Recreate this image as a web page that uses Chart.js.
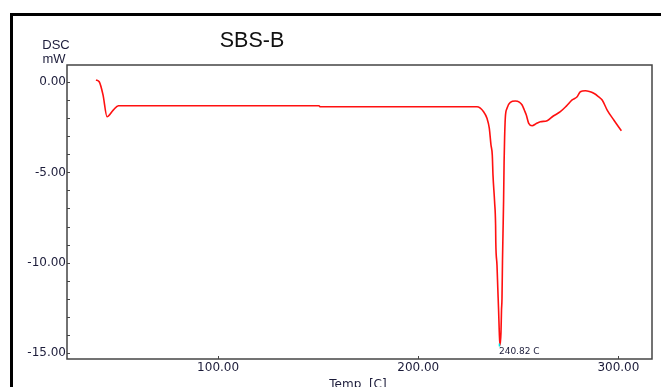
<!DOCTYPE html>
<html>
<head>
<meta charset="utf-8">
<script src="https://cdn.jsdelivr.net/npm/chart.js@4/dist/chart.umd.min.js"></script>
<style>
  html, body { margin: 0; padding: 0; background: #fff; overflow: hidden; }
  #wrap { position: absolute; left: 0; top: 0; width: 661px; height: 387px; }
</style>
</head>
<body>
<div id="wrap"><canvas id="c" width="661" height="387"></canvas></div>
<script>
// ---- data ----
const temps = [39, 40.6, 42.5, 44.5, 47.6, 50.2, 100, 150.4, 151, 200, 229.35, 232.65, 234.35, 235.5, 236.35, 237, 237.35, 238.15, 238.65, 238.75, 239.35, 239.75, 240.15, 240.5, 240.82, 241.35, 241.6, 241.85, 242.1, 242.35, 242.65, 242.9, 243.15, 243.5, 244.35, 246, 248.5, 250.5, 251.9, 253, 254, 255.2, 256.9, 259, 261, 264.4, 267.5, 271, 274, 276.9, 279.4, 281, 283.5, 285.5, 287.7, 290, 291.9, 294.4, 297.7, 301.5];
const dsc   = [0.13, 0.03, -0.7, -1.91, -1.54, -1.3, -1.3, -1.3, -1.36, -1.36, -1.36, -1.63, -2.0, -2.54, -3.48, -4.04, -5.15, -6.63, -7.93, -8.86, -10.15, -11.43, -12.65, -13.86, -14.6, -13.86, -12.65, -11.98, -9.87, -8.37, -6.54, -4.41, -3.09, -1.98, -1.44, -1.11, -1.04, -1.1, -1.26, -1.54, -1.82, -2.28, -2.41, -2.29, -2.19, -2.13, -1.87, -1.63, -1.32, -0.98, -0.8, -0.52, -0.47, -0.51, -0.61, -0.79, -0.98, -1.54, -2.09, -2.69];
const xTickValues = [100, 200, 300];
const yTickValues = [0, -5, -10, -15];
const yMinorStep = 1;
const peakTemp = 240.82;
const peakValue = -14.6;
const peakLabel = '240.82 C';
const chartTitle = 'SBS-B';
const yTitleLines = ['DSC', 'mW'];
const xTitle = 'Temp  [C]';

const points = temps.map((t, i) => ({ x: t, y: dsc[i] }));

const decor = {
  id: 'decor',
  beforeDraw(chart) {
    const ctx = chart.ctx;
    ctx.save();
    ctx.fillStyle = '#fff';
    ctx.fillRect(0, 0, chart.width, chart.height);
    ctx.restore();
  },
  afterDraw(chart) {
    const ctx = chart.ctx;
    const a = chart.chartArea;
    const xs = chart.scales.x, ys = chart.scales.y;
    ctx.save();
    // outer black frame
    ctx.strokeStyle = '#000';
    ctx.lineWidth = 3;
    ctx.beginPath();
    ctx.moveTo(11.5, chart.height + 2);
    ctx.lineTo(11.5, 14.5);
    ctx.lineTo(chart.width + 2, 14.5);
    ctx.stroke();
    // plot frame
    ctx.strokeStyle = '#444';
    ctx.lineWidth = 1.5;
    ctx.strokeRect(a.left, a.top, a.right - a.left, a.bottom - a.top);
    // inward ticks
    ctx.lineWidth = 1;
    ctx.strokeStyle = '#444';
    ctx.beginPath();
    for (let v = Math.ceil(ys.min); v <= ys.max; v += yMinorStep) {
      const py = Math.round(ys.getPixelForValue(v)) + 0.5;
      ctx.moveTo(a.left, py);
      ctx.lineTo(a.left + 3, py);
    }
    xTickValues.forEach(v => {
      const px = Math.round(xs.getPixelForValue(v)) + 0.5;
      ctx.moveTo(px, a.bottom);
      ctx.lineTo(px, a.bottom - 3);
    });
    ctx.stroke();
    // peak marker + label
    const ppx = xs.getPixelForValue(peakTemp);
    const ppy = ys.getPixelForValue(peakValue);
    ctx.strokeStyle = '#00e0e0';
    ctx.lineWidth = 1.5;
    ctx.beginPath();
    ctx.moveTo(ppx - 0.5, ppy - 2);
    ctx.lineTo(ppx - 0.5, ppy + 1);
    ctx.stroke();
    ctx.fillStyle = '#1c1c3a';
    ctx.font = '9px "DejaVu Sans"';
    ctx.textBaseline = 'top';
    ctx.textAlign = 'left';
    ctx.fillText(peakLabel, ppx - 1, ppy + 2);
    // titles
    ctx.fillStyle = '#111';
    ctx.font = '21.5px "Liberation Sans"';
    ctx.textAlign = 'center';
    ctx.textBaseline = 'alphabetic';
    ctx.fillText(chartTitle, 252, 47);
    ctx.font = '13px "Liberation Sans"';
    ctx.fillStyle = '#1c1c3a';
    ctx.fillText(yTitleLines[0], 56, 49);
    ctx.fillText(yTitleLines[1], 54, 63);
    ctx.font = '12px "DejaVu Sans"';
    ctx.fillText(xTitle, 358, 388);
    ctx.restore();
  }
};

new Chart(document.getElementById('c'), {
  type: 'line',
  data: {
    datasets: [{
      data: points,
      borderColor: '#ff1010',
      borderWidth: 1.6,
      pointRadius: 0,
      fill: false,
      cubicInterpolationMode: 'monotone'
    }]
  },
  options: {
    responsive: false,
    animation: false,
    devicePixelRatio: 1,
    layout: { padding: { top: 65, right: 9, left: 0, bottom: 0 } },
    plugins: { legend: { display: false }, tooltip: { enabled: false }, title: { display: false } },
    scales: {
      x: {
        type: 'linear',
        min: 24.5,
        max: 316.8,
        afterBuildTicks: s => { s.ticks = xTickValues.map(v => ({ value: v })); },
        afterFit: s => { s.height = 28; },
        grid: { display: false, drawTicks: false },
        border: { display: false },
        ticks: {
          padding: 2,
          color: '#1c1c3a',
          font: { family: 'DejaVu Sans', size: 12 },
          maxRotation: 0,
          callback: v => Number(v).toFixed(2)
        }
      },
      y: {
        type: 'linear',
        min: -15.35,
        max: 0.96,
        afterBuildTicks: s => { s.ticks = yTickValues.map(v => ({ value: v })); },
        afterFit: s => { s.width = 67; },
        grid: { display: false, drawTicks: false },
        border: { display: false },
        ticks: {
          padding: 1,
          color: '#1c1c3a',
          font: { family: 'DejaVu Sans', size: 12 },
          callback: v => Number(v).toFixed(2)
        }
      }
    }
  },
  plugins: [decor]
});
</script>
</body>
</html>
